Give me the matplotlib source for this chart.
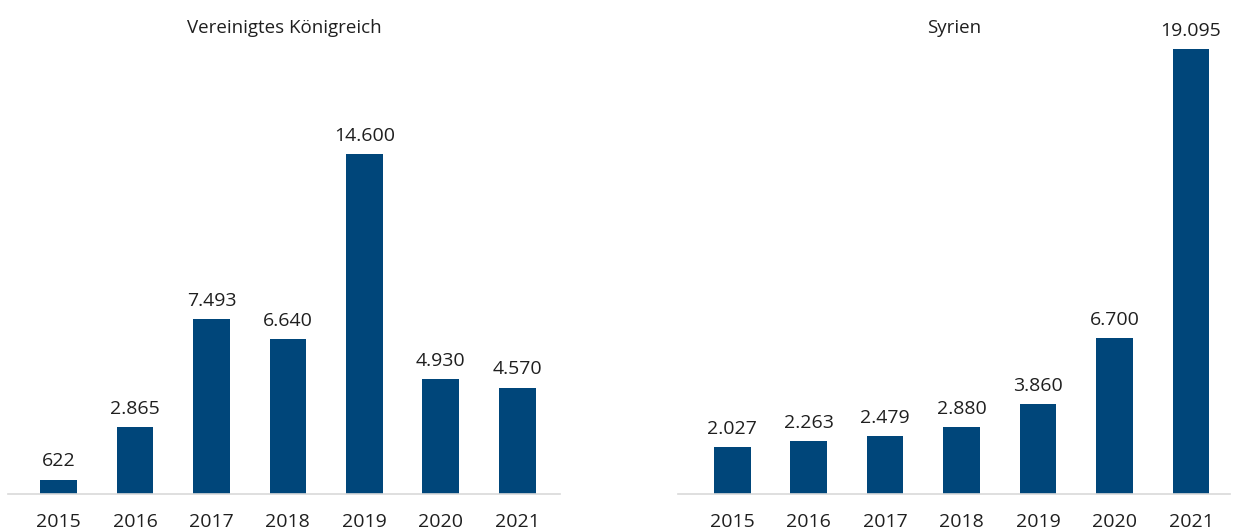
#######################################
# 1. modules
#######################################
import matplotlib

matplotlib.use("Agg")
import matplotlib.pyplot as plt

#######################################
# 2. settings / data
#######################################
OUT_FILE = "out.png"

YEARS = ["2015", "2016", "2017", "2018", "2019", "2020", "2021"]
UK_VALUES = [622, 2865, 7493, 6640, 14600, 4930, 4570]
SYRIA_VALUES = [2027, 2263, 2479, 2880, 3860, 6700, 19095]
TITLES = ["Vereinigtes Königreich", "Syrien"]

BAR_COLOR = "#00467a"
TEXT_COLOR = "#1f1f1f"
AXIS_COLOR = "#d9d9d9"

plt.rcParams["font.family"] = ["Open Sans", "DejaVu Sans"]


#######################################
# 3. helpers
#######################################
def fmt_de(v):
    return f"{v:,}".replace(",", ".")


def draw_panel(ax, title, values, xlim):
    x = list(range(len(YEARS)))
    bars = ax.bar(x, values, width=0.48, color=BAR_COLOR, zorder=2)
    for rect, v in zip(bars, values):
        ax.annotate(
            fmt_de(v),
            xy=(rect.get_x() + rect.get_width() / 2, rect.get_height()),
            xytext=(0, 6.5),
            textcoords="offset points",
            ha="center",
            va="bottom",
            fontsize=14,
            color=TEXT_COLOR,
        )

    ax.set_xlim(*xlim)
    ax.set_ylim(0, 21200)
    ax.set_xticks(x)
    ax.set_xticklabels(YEARS, fontsize=14, color=TEXT_COLOR)
    ax.tick_params(axis="x", length=0, pad=14)
    ax.set_yticks([])

    for side in ["left", "right", "top"]:
        ax.spines[side].set_visible(False)
    ax.spines["bottom"].set_color(AXIS_COLOR)
    ax.spines["bottom"].set_linewidth(1.2)

    ax.text(0.5, 0.943, title, transform=ax.transAxes, ha="center",
            va="center", fontsize=13.5, color=TEXT_COLOR)


#######################################
# 4. main
#######################################
def main():
    fig = plt.figure(figsize=(12.36, 5.32), dpi=100)
    ax_left = fig.add_axes([0.0065, 0.0714, 0.4466, 0.9286])
    ax_right = fig.add_axes([0.5485, 0.0714, 0.4466, 0.9286])

    draw_panel(ax_left, TITLES[0], UK_VALUES, (-0.66, 6.56))
    draw_panel(ax_right, TITLES[1], SYRIA_VALUES, (-0.71, 6.51))

    fig.savefig(OUT_FILE, dpi=100)


#######################################
# 5. run
#######################################
if __name__ == "__main__":
    main()
